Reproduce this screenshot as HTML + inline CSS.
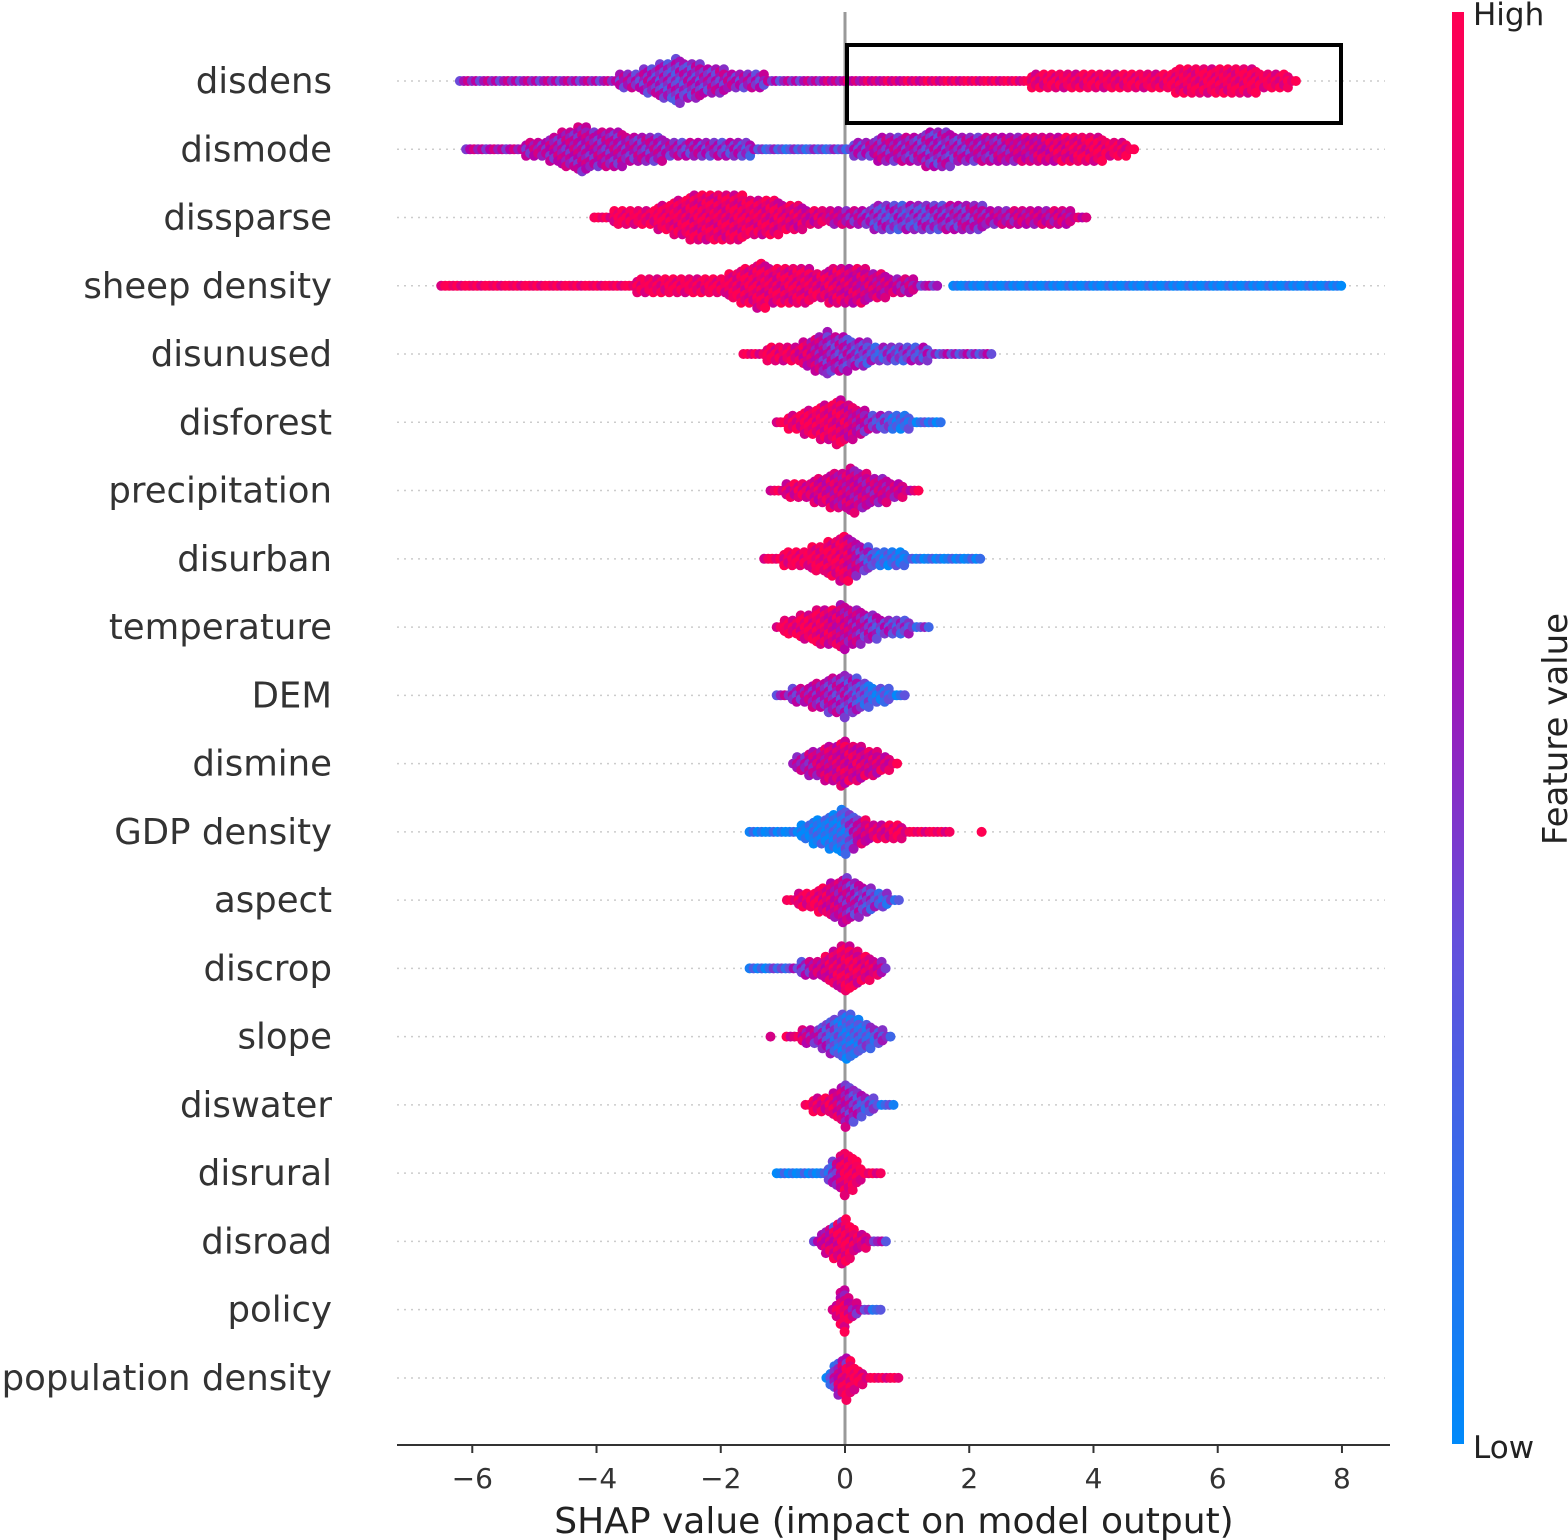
<!DOCTYPE html>
<html><head><meta charset="utf-8">
<style>
html,body{margin:0;padding:0;background:#fff;}
svg{display:block;font-family:"DejaVu Sans","Liberation Sans",sans-serif;}
</style></head>
<body>
<svg id="chart" width="1568" height="1540" viewBox="0 0 1568 1540" xmlns="http://www.w3.org/2000/svg">
<defs>
<linearGradient id="cbar" x1="0" y1="1" x2="0" y2="0">
<stop offset="0" stop-color="rgb(0,138,250)"/>
<stop offset="0.35" stop-color="rgb(100,80,220)"/>
<stop offset="0.6" stop-color="rgb(180,0,170)"/>
<stop offset="1" stop-color="rgb(255,0,82)"/>
</linearGradient>
</defs>
<g id="grid"></g>
<line x1="845" y1="12" x2="845" y2="1445" stroke="#999" stroke-width="3"/>
<g id="points"></g>
<g id="labels"></g>
<g id="xaxis"></g>
<text x="894" y="1533" font-size="36" text-anchor="middle" fill="#222">SHAP value (impact on model output)</text>
<rect x="847" y="45" width="494" height="78" fill="none" stroke="#000" stroke-width="4"/>
<rect x="1452" y="12" width="12" height="1432" fill="url(#cbar)"/>
<text x="1473" y="25" font-size="31" fill="#222">High</text>
<text x="1473" y="1458" font-size="31" fill="#222">Low</text>
<text transform="translate(1567,729) rotate(-90)" font-size="34" text-anchor="middle" fill="#222">Feature value</text>
</svg>
<script>
const features = ["disdens","dismode","dissparse","sheep density","disunused","disforest","precipitation","disurban","temperature","DEM","dismine","GDP density","aspect","discrop","slope","diswater","disrural","disroad","policy","population density"];
const shapKnots = [
 [-6.2,-4,-3.5,-2.7,-2,-1,0,2,4,6.3,7.3],
 [-6.1,-5,-4.3,-3,-2,-1,0,0.5,1.5,2.5,3.8,4.7],
 [-4.1,-3,-2.4,-1.3,-0.3,0.5,1,2,3,3.9],
 [-6.5,-4,-2,-1.4,-0.5,0.3,0.8,1.5,1.6,1.8,8.0],
 [-1.7,-0.8,-0.3,0,0.5,1.5,2.4],
 [-1.1,-0.5,-0.1,0.3,0.8,1.6],
 [-1.2,-0.5,0.1,0.5,1.0,1.2],
 [-1.3,-0.5,0,0.5,1.5,2.2],
 [-1.1,-0.4,0,0.5,1.4],
 [-1.1,-0.5,0,0.5,1.0,1.05,1.35,1.4],
 [-0.9,-0.4,0,0.5,0.9],
 [-1.6,-0.8,-0.3,0,0.3,1.0,1.7,1.75,2.15,2.2],
 [-1.0,-0.4,0,0.4,0.9],
 [-1.6,-0.8,-0.3,0,0.4,0.7],
 [-1.2,-1.15,-0.9,-0.4,0,0.4,0.75],
 [-0.7,-0.2,0,0.4,0.8],
 [-1.1,-0.3,0,0.3,0.6],
 [-0.5,0,0.2,0.7],
 [-0.2,0,0.1,0.6],
 [-0.3,0,0.3,0.9]
];
const spreadKnots = [
 [5,6,10,28,15,6,6,7,10,18,7],
 [6,9,28,15,10,7,7,15,22,15,20,6],
 [5,15,30,25,8,15,20,15,13,7],
 [6,7,12,28,20,22,12,4,0,6,6],
 [5,12,28,22,12,8,5],
 [5,18,28,15,10,5],
 [6,15,28,18,8,5],
 [5,15,30,10,7,5],
 [6,22,28,15,5],
 [5,15,28,12,5,0,0,5],
 [5,20,28,15,5],
 [4,7,20,30,15,8,5,0,0,5],
 [5,15,28,15,5],
 [5,7,15,30,15,5],
 [5,0,5,15,30,15,5],
 [5,15,28,10,5],
 [5,7,30,8,5],
 [5,30,10,5],
 [5,30,10,5],
 [4,30,8,5]
];
const colorKnots = [
 [0.55,0.55,0.55,0.45,0.55,0.5,0.7,0.9,0.93,0.95,0.95],
 [0.6,0.6,0.6,0.55,0.5,0.3,0.35,0.6,0.5,0.6,0.9,0.95],
 [0.95,0.95,0.9,0.9,0.75,0.45,0.4,0.55,0.7,0.7],
 [0.98,0.97,0.95,0.9,0.88,0.75,0.7,0.45,0.1,0.05,0.05],
 [0.95,0.9,0.55,0.5,0.35,0.45,0.45],
 [0.95,0.92,0.88,0.6,0.2,0.15],
 [0.9,0.8,0.7,0.65,0.7,0.95],
 [0.95,0.95,0.9,0.2,0.1,0.1],
 [0.95,0.9,0.7,0.45,0.3],
 [0.5,0.6,0.5,0.2,0.15,0.1,0.1,0.1],
 [0.5,0.7,0.8,0.75,0.9],
 [0.05,0.05,0.1,0.2,0.75,0.95,0.95,0.95,0.95,0.95],
 [0.95,0.9,0.6,0.4,0.2],
 [0.05,0.4,0.8,0.9,0.85,0.55],
 [0.95,0.95,0.9,0.5,0.15,0.3,0.4],
 [0.95,0.85,0.6,0.3,0.15],
 [0.05,0.1,0.95,0.95,0.95],
 [0.55,0.95,0.85,0.35],
 [0.95,0.95,0.7,0.1],
 [0.2,0.95,0.95,0.95]
];
const xTicks = [-6,-4,-2,0,2,4,6,8];

const NS="http://www.w3.org/2000/svg";
const X0=845, XS=62.12, Y0=81, DY=68.26;
const xScale=v=>X0+v*XS;
const yScale=i=>Y0+i*DY;
function mk(tag,attrs,parent){const e=document.createElementNS(NS,tag);for(const k in attrs)e.setAttribute(k,attrs[k]);parent.appendChild(e);return e;}
function colorOf(v){
  v=Math.max(0,Math.min(1,v));
  const st=[[0,[0,138,250]],[0.35,[100,80,220]],[0.6,[180,0,170]],[1,[255,0,82]]];
  for(let i=0;i<st.length-1;i++){const a=st[i],b=st[i+1];if(v<=b[0]){const t=(v-a[0])/(b[0]-a[0]);return `rgb(${a[1].map((c,j)=>Math.round(c+(b[1][j]-c)*t)).join(",")})`;}}
  return "rgb(255,0,82)";
}
function interp(xs,ys,x){for(let i=0;i<xs.length-1;i++){if(x>=xs[i]&&x<=xs[i+1]){const t=(x-xs[i])/((xs[i+1]-xs[i])||1);return ys[i]+(ys[i+1]-ys[i])*t;}}return null;}

const grid=document.getElementById('grid'),pts=document.getElementById('points'),lab=document.getElementById('labels'),xa=document.getElementById('xaxis');
features.forEach((f,i)=>{
  const y=yScale(i);
  const gl=mk('line',{x1:397,x2:1385,y1:y,y2:y,stroke:'#ccc','stroke-width':1.5,'stroke-dasharray':'2,5'},grid);
  
  
  const t=mk('text',{x:332,y:y+12,'font-size':35.5,'text-anchor':'end',fill:'#333'},lab);
  t.textContent=f;
  
  
  const g=mk('g',{},pts);
  
  
  const xs=shapKnots[i],ws=spreadKnots[i],cs=colorKnots[i];
  const px0=xScale(xs[0]),px1=xScale(xs[xs.length-1]);
  let k=0;
  for(let px=px0;px<=px1+0.1;px+=4,k++){
    const v=(px-X0)/XS;
    const hh=interp(xs,ws,v); if(hh===null||hh<3.5)continue;
    const cv=interp(xs,cs,v);
    const rows=Math.max(0,Math.round((hh-5.5)/6));
    for(let r=-rows;r<=rows;r++){
      const off=r*5.2+((k%2)?1.3:-1.3)*(r===0?0:1);
      const jit=(((k*7+r*13)%5)-2)*0.09;
      mk('circle',{cx:px.toFixed(1),cy:(y+off).toFixed(1),r:5,fill:colorOf(cv+jit)},g);
    }
  }
});
mk('line',{x1:397,x2:1390,y1:1445,y2:1445,stroke:'#333','stroke-width':2},xa);
xTicks.forEach(t=>{
  const x=xScale(t);
  mk('line',{x1:x,x2:x,y1:1445,y2:1453,stroke:'#333','stroke-width':2},xa);
  const tx=mk('text',{x:x,y:1488,'font-size':28,'text-anchor':'middle',fill:'#333'},xa);
  tx.textContent=(t<0?'\u2212'+(-t):String(t));
  
  
});
</script>
</body></html>
